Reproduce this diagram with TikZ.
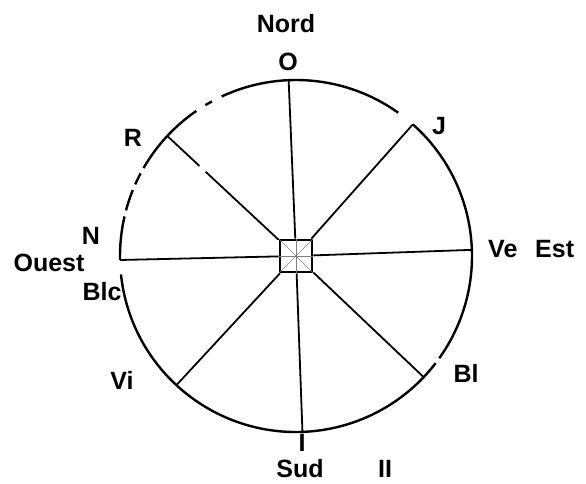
\documentclass[tikz,border=0pt]{standalone}
\usepackage{fontspec}
\setmainfont{Liberation Sans}
\usetikzlibrary{calc}
\begin{document}
\begin{tikzpicture}[x=1pt,y=1pt,
	rim/.style={line width=2.4pt},
	spoke/.style={line width=1.8pt},
	lbl/.style={font=\fontsize{25}{30}\selectfont\bfseries, inner sep=0pt}]
	\useasboundingbox (0,0) rectangle (586,483);

	\coordinate (c) at (296,227);
	\node[draw, line width=2.8pt, minimum size=32pt, inner sep=0pt] (sq) at (c) {};
	\draw[gray, line width=0.5pt] (sq.north west) -- (sq.south east);
	\draw[gray, line width=0.5pt] (sq.south west) -- (sq.north east);
	\draw[gray, line width=0.5pt] (sq.north) -- (sq.south);
	\draw[gray, line width=0.5pt] (sq.west) -- (sq.east);

	% the rim, with its breaks
	\foreach \a/\b in {54.5/115, 118.5/121, 124.5/150, 152/156, 158/165, 167/181.3, 186/322.5, 324.5/408.4}
		\draw[rim] ($(c)+(\a:176)$) arc[start angle=\a, end angle=\b, radius=176];

	\coordinate (pO) at ($(c)+(92.4:176)$);
	\coordinate (pJ) at ($(c)+(48.4:176)$);
	\coordinate (pVe) at ($(c)+(2:176)$);
	\coordinate (pBl) at ($(c)+(-43.5:176)$);
	\coordinate (pI) at ($(c)+(-87.9:176)$);
	\coordinate (pVi) at ($(c)+(227.2:176)$);
	\coordinate (pBlc) at ($(c)+(181.3:176)$);
	\coordinate (pR) at ($(c)+(137:176)$);
	\coordinate (gR1) at ($(c)+(137:123.5)$);
	\coordinate (gR2) at ($(c)+(137:132)$);

	\foreach \p in {pO, pJ, pVe, pBl, pI, pVi, pBlc}
		\draw[spoke] (sq) -- (\p);
	\draw[spoke] (sq) -- (gR1);
	\draw[spoke] (gR2) -- (pR);

	\node[lbl] (nord) at (286,459) {Nord};
	\node[lbl] (lO) at (288,421) {O};
	\node[lbl] (lJ) at (439,357) {J};
	\node[lbl] (lR) at (133,345) {R};
	\node[lbl, anchor=west] (lVe) at (488,234) {Ve};
	\node[lbl, anchor=west] (est) at (535,234) {Est};
	\node[lbl] (lN) at (91,247) {N};
	\node[lbl] (ouest) at (49,220) {Ouest};
	\node[lbl] (lBlc) at (102,191) {Blc};
	\node[lbl] (lVi) at (122,103) {Vi};
	\node[lbl] (lBl) at (466,110) {Bl};
	\node[lbl] (lI) at (302,40) {I};
	\node[lbl] (sud) at (300,14) {Sud};
	\node[lbl] (fig) at (385,14) {II};
\end{tikzpicture}
\end{document}
